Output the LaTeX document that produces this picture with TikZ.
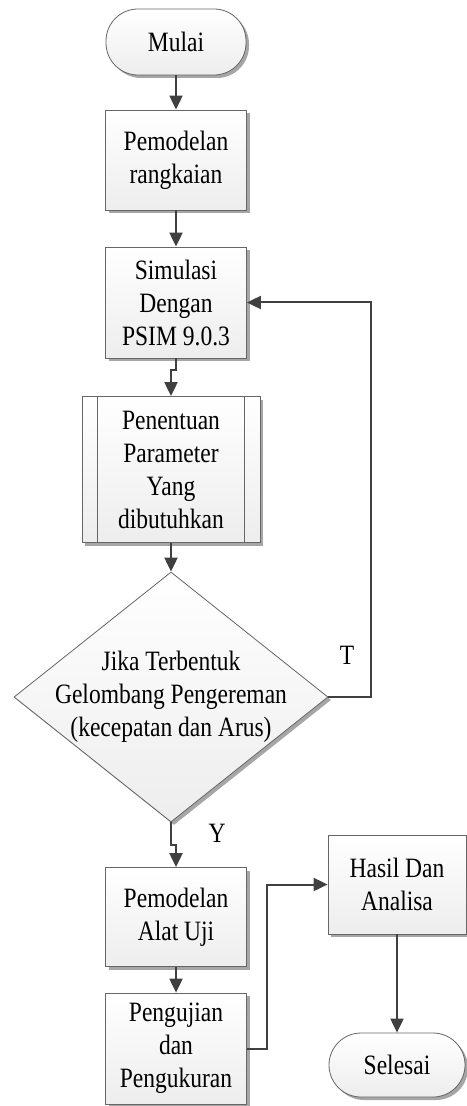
\documentclass[tikz,border=0pt]{standalone}
\usepackage{fontspec}
\setmainfont{Liberation Serif}[FakeStretch=0.84]
\usetikzlibrary{shapes, arrows.meta, shadows}

\begin{document}
\begin{tikzpicture}[x=0.5pt,y=-0.5pt,
  every node/.style={font=\fontsize{14}{16.5}\selectfont, align=center},
  box/.style={draw=gray!80!black, line width=0.4pt, top color=white, bottom color=gray!14,
    drop shadow={shadow xshift=1.5pt, shadow yshift=-1.5pt, fill=gray!70, opacity=1},
    minimum width=70.5pt, inner sep=0pt},
  term/.style={box, rounded corners=16pt, minimum height=33pt, minimum width=70pt},
  edge/.style={draw=gray!80!black, line width=0.4pt},
  conn/.style={draw=black!75, line width=1pt, -{Triangle[length=7pt,width=6.5pt]}}]
\useasboundingbox (0,0) rectangle (466,1106);

\node[term] (mulai) at (176,42) {Mulai};
\node[box, minimum height=50pt] (model) at (176,160) {Pemodelan\\rangkaian};
\node[box, minimum height=55.5pt] (sim) at (176,302.5) {Simulasi\\Dengan\\PSIM 9.0.3};
\node[box, minimum width=89pt, minimum height=73pt] (param) at (171,469.5) {Penentuan\\Parameter\\Yang\\dibutuhkan};
\foreach \a/\s in {west/8pt, east/-8pt}
  \draw[edge] ([xshift=\s]param.north \a) -- ([xshift=\s]param.south \a);
\node[box, diamond, minimum width=157pt, minimum height=125pt,
  label={center:{Jika Terbentuk\\Gelombang Pengereman\\(kecepatan dan Arus)}}] (cek) at (171,697) {};
\node (tlab) at (347,655) {T};
\node (ylab) at (217,833) {Y};
\node[box, minimum height=49.5pt] (alat) at (176,917) {Pemodelan\\Alat Uji};
\node[box, minimum height=55.5pt] (uji) at (176,1048.5) {Pengujian\\dan\\Pengukuran};
\node[box, minimum width=69pt, minimum height=49.5pt] (hasil) at (397,884.5) {Hasil Dan\\Analisa};
\node[term, minimum width=68pt, minimum height=32pt] (selesai) at (397,1065) {Selesai};

\draw[conn] (mulai) -- (model);
\draw[conn] (model) -- (sim);
\draw[conn] (sim.south) -- ++(0,12) -| (param.north);
\draw[conn] (param) -- (cek);
\draw[conn] (cek.east) -- ++(43,0) |- (sim.east);
\draw[conn] (cek.south) -- ++(0,23) -| (alat.north);
\draw[conn] (alat) -- (uji);
\draw[conn] (uji.east) -- ++(20,0) |- (hasil.west);
\draw[conn] (hasil) -- (selesai);
\end{tikzpicture}
\end{document}
